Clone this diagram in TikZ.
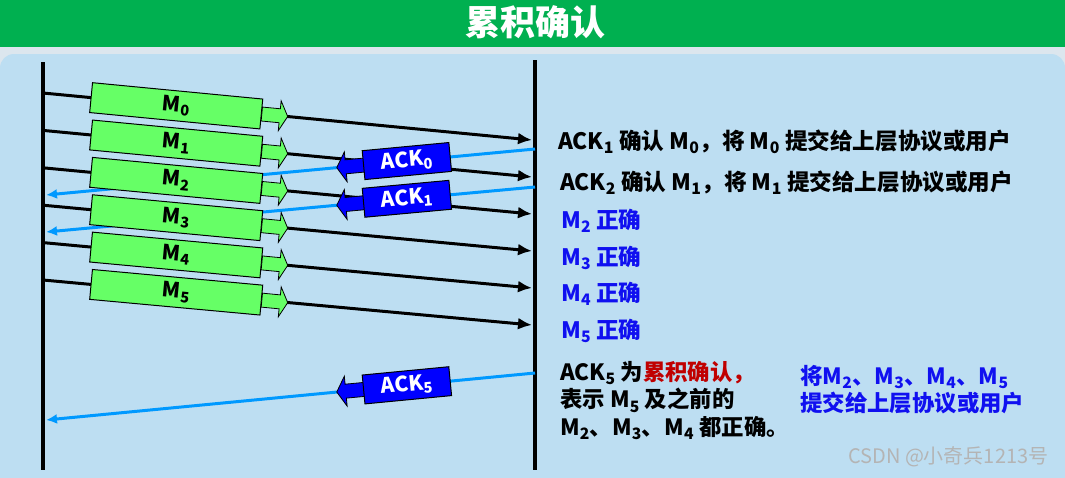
\documentclass[tikz,border=0pt]{standalone}
\usepackage{fontspec}
\setmainfont{Noto Sans CJK SC}
\usetikzlibrary{arrows.meta}
\definecolor{titlegreen}{HTML}{00B050}
\definecolor{stripgray}{HTML}{DCE6EE}
\definecolor{panelblue}{HTML}{BDDEF2}
\definecolor{msggreen}{HTML}{66FF66}
\definecolor{ackblue}{HTML}{0000FF}
\definecolor{linkblue}{HTML}{0099FF}
\definecolor{okblue}{HTML}{1010F0}
\definecolor{notered}{HTML}{C00000}
\definecolor{markgray}{HTML}{B4B4B4}

\tikzset{
  timeline/.style={line width=4pt},
  msgline/.style={line width=3pt, -{Latex[length=14pt,width=12pt]}},
  acklink/.style={line width=3pt, linkblue, -{Latex[length=11pt,width=10pt]}},
  msgbox/.style={draw=black, line width=1pt, fill=msggreen, sloped,
    minimum width=171pt, minimum height=30pt, inner sep=0pt},
  msglabel/.style={inner sep=0pt, rotate=-5.48,
    font=\fontsize{21}{21}\selectfont\bfseries},
  ackbox/.style={draw=black, line width=1pt, fill=ackblue, text=white, sloped,
    minimum width=87pt, minimum height=29pt, inner sep=0pt,
    font=\fontsize{21}{21}\selectfont\bfseries},
  msgtail/.style={draw=black, line width=0.8pt, fill=msggreen},
  ackhead/.style={draw=black, line width=0.8pt, fill=ackblue},
  note/.style={anchor=base west, inner sep=0pt,
    font=\fontsize{22.6}{22.6}\selectfont\bfseries},
  notes/.style={anchor=north west, inner sep=0pt, align=left,
    font=\fontsize{22.4}{27.5}\selectfont\bfseries}
}

\begin{document}
\begin{tikzpicture}[x=1pt, y=-1pt]
  \clip (0,0) rectangle (1065,477);
  % background and title bar
  \fill[stripgray] (0,0) rectangle (1065,477);
  \fill[panelblue, rounded corners=14pt] (0,54) rectangle (1065,500);
  \fill[titlegreen] (0,0) rectangle (1065,47);
  \node[text=white, font=\fontsize{35}{35}\selectfont\bfseries] (title) at (535,22) {累积确认};

  % sender and receiver
  \coordinate (sendtop) at (43,62);
  \coordinate (sendbot) at (43,470);
  \coordinate (recvtop) at (535,60);
  \coordinate (recvbot) at (535,470);
  \draw[timeline] (sendtop) -- (sendbot);
  \draw[timeline] (recvtop) -- (recvbot);

  \foreach \i in {0,...,5} {
    \coordinate (s\i) at (43,93+37.4*\i);
    \coordinate (r\i) at (532,140+37*\i);
    \draw[msgline] (s\i) -- (r\i);
  }

  \coordinate (a0) at (535,149);
  \coordinate (b0) at (46,195);
  \coordinate (a1) at (535,187);
  \coordinate (b1) at (46,232);
  \coordinate (a5) at (535,373);
  \coordinate (b5) at (46,420);
  \foreach \j in {0,1,5}
    \draw[acklink] (a\j) -- (b\j);

  % frames
  \foreach \i in {0,...,5} {
    \path (s\i) -- node[msgbox, pos=0.2724] (m\i) {} (r\i);
    \node[msglabel] (ml\i) at (m\i.center) {M\textsubscript{\i}};
    \begin{scope}[shift={(m\i.east)}, rotate=-5.48]
      \draw[msgtail] (0,7) -- (18,7) -- (18,15) -- (26,0) -- (18,-15) -- (18,-7) -- (0,-7) -- cycle;
    \end{scope}
  }

  % acknowledgements
  \foreach \j in {0,1,5} {
    \path (a\j) -- coordinate[pos=0.3504] (w\j) (b\j);
    \begin{scope}[shift={(w\j)}, rotate=5.36]
      \draw[ackhead] (1,7) -- (-18,7) -- (-18,15) -- (-27,0) -- (-18,-15) -- (-18,-7) -- (1,-7) -- cycle;
    \end{scope}
    \path (a\j) -- node[ackbox, pos=0.262] (k\j) {ACK\textsubscript{\j}} (b\j);
  }

  % right side notes
  \node[note] (t0) at (558,149) {ACK\textsubscript{1} 确认 M\textsubscript{0}，将 M\textsubscript{0} 提交给上层协议或用户};
  \node[note] (t1) at (560,190) {ACK\textsubscript{2} 确认 M\textsubscript{1}，将 M\textsubscript{1} 提交给上层协议或用户};
  \foreach \i/\y in {2/228,3/265,4/301,5/338}
    \node[note, text=okblue] (ok\i) at (561,\y) {M\textsubscript{\i} 正确};

  \node[notes] (cum) at (560,361) {ACK\textsubscript{5} 为\textcolor{notered}{累积确认，}\\
    表示 M\textsubscript{5} 及之前的\\
    M\textsubscript{2}、M\textsubscript{3}、M\textsubscript{4} 都正确。};
  \node[notes, text=okblue] (deliver) at (800,365) {将M\textsubscript{2}、M\textsubscript{3}、M\textsubscript{4}、M\textsubscript{5}\\
    提交给上层协议或用户};

  \node[anchor=west, inner sep=0pt, text=markgray, font=\fontsize{20}{20}\selectfont] (mark) at (848,457) {CSDN @小奇兵1213号};
\end{tikzpicture}
\end{document}
